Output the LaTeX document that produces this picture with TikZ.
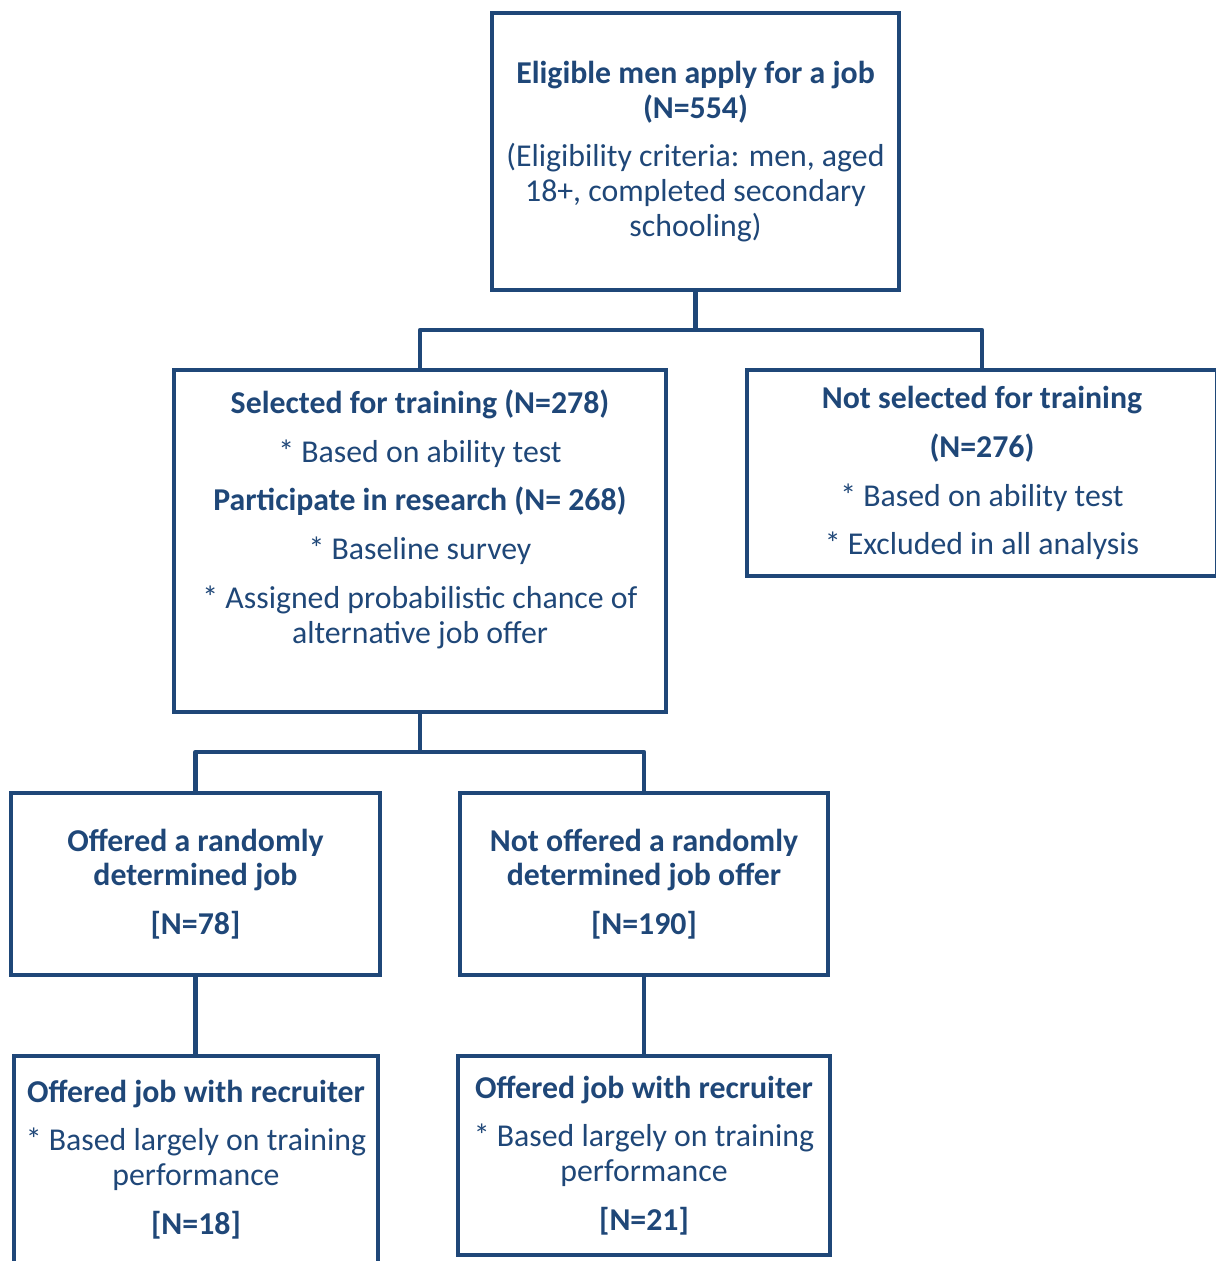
\documentclass[tikz,border=0pt]{standalone}
\usepackage{fontspec}
\setmainfont{Carlito}
\definecolor{navy}{RGB}{31,71,120}

\begin{document}
\begin{tikzpicture}[x=0.02cm,y=-0.02cm,
 box/.style ={draw=navy,line width=0.09cm,text=navy,align=center,outer sep=0pt,inner sep=0pt,
   font=\fontsize{18.1}{19.8}\selectfont},
 link/.style ={-,draw=navy,line width=0.09cm,line join=round}
 ]
\useasboundingbox (0,0) rectangle (1215,1261);
%draw applicants
\node[box,minimum width=8.14cm,minimum height=5.54cm] (apply) at (695.5,151.5)
 {\textbf{Eligible men apply for a job}\\ \textbf{(N=554)}\\[8pt]
  (Eligibility criteria: men, aged\\ 18+, completed secondary\\ schooling)};
%draw selected
\node[box,minimum width=9.84cm,minimum height=6.84cm] (selected) at (420,541)
 {\textbf{Selected for training (N=278)}\\[8pt]
  * Based on ability test\\[8pt]
  \textbf{Participate in research (N= 268)}\\[8pt]
  * Baseline survey\\[8pt]
  * Assigned probabilistic chance of\\ alternative job offer\rule[-0.98cm]{0pt}{0.98cm}};
%draw not selected
\node[box,minimum width=9.4cm,minimum height=4.12cm] (notsel) at (982,473)
 {\textbf{Not selected for training}\\[8pt]
  \textbf{(N=276)}\\[8pt]
  * Based on ability test\\[8pt]
  * Excluded in all analysis};
%draw offered
\node[box,minimum width=7.38cm,minimum height=3.64cm] (offered) at (195.5,884)
 {\textbf{Offered a randomly}\\ \textbf{determined job}\\[8pt] \textbf{[N=78]}};
%draw not offered
\node[box,minimum width=7.36cm,minimum height=3.64cm] (notoff) at (644,884)
 {\textbf{Not offered a randomly}\\ \textbf{determined job offer}\\[8pt] \textbf{[N=190]}};
%draw recruiter offers
\node[box,minimum width=7.28cm,minimum height=4.14cm] (recleft) at (196,1159.5)
 {\textbf{Offered job with recruiter}\\[8pt]
  * Based largely on training\\ performance\\[8pt] \textbf{[N=18]}};
\node[box,minimum width=7.44cm,minimum height=3.98cm] (recright) at (644,1155.5)
 {\textbf{Offered job with recruiter}\\[8pt]
  * Based largely on training\\ performance\\[8pt] \textbf{[N=21]}};
%draw links
\coordinate (split1) at (695.5,330);
\coordinate (split2) at (420,752);
\draw[link] (apply.south) -- (split1);
\draw[link] (selected.north) |- (split1) -| (notsel.north);
\draw[link] (selected.south) -- (split2);
\draw[link] (offered.north) |- (split2) -| (notoff.north);
\draw[link] (offered.south) -- (offered.south |- recleft.north);
\draw[link] (notoff.south) -- (recright.north);
\end{tikzpicture}
\end{document}
